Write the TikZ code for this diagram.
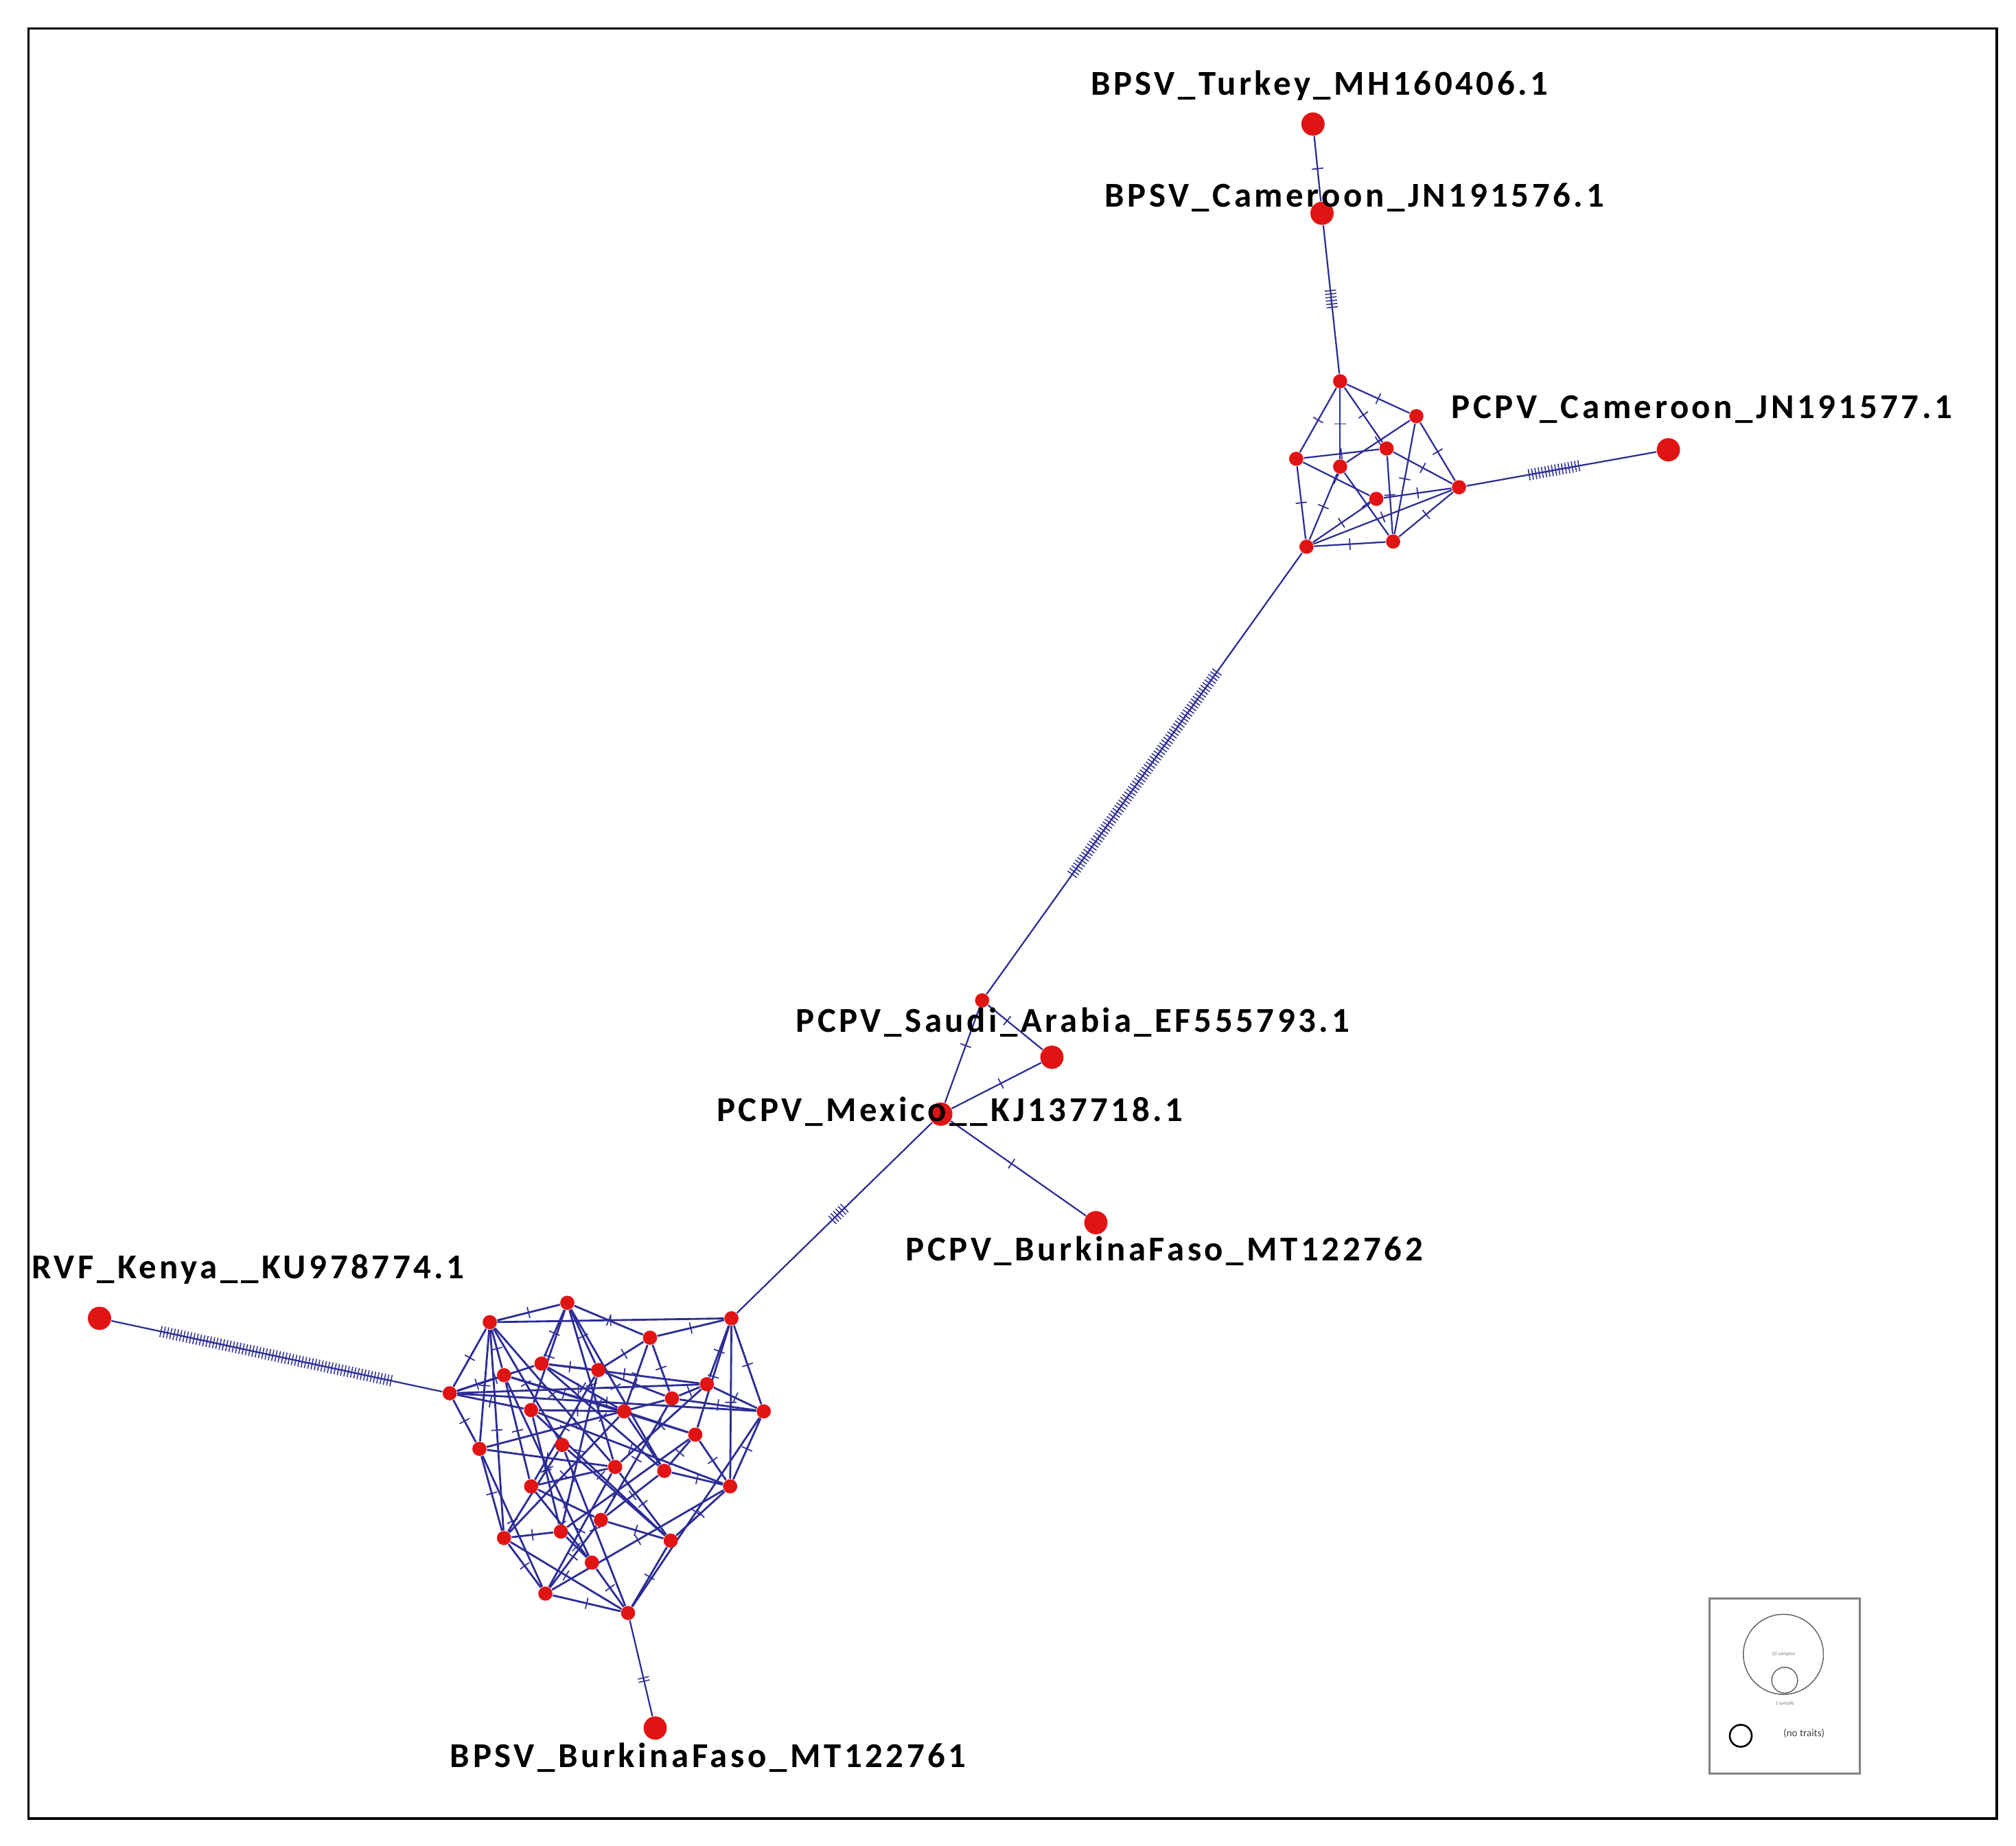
\documentclass[tikz,border=0pt]{standalone}
\usepackage{fontspec}
\setmainfont{Carlito}
\usetikzlibrary{decorations.markings}
\pgfdeclarelayer{bg}\pgfsetlayers{bg,main}
\definecolor{edge}{RGB}{45,45,150}
\definecolor{nod}{RGB}{225,20,20}
\tikzset{
 e/.style={draw=edge,line width=0.6pt},
 eb/.style={draw=edge,line width=0.75pt},
 hv/.style={circle,fill=nod,inner sep=0pt,minimum size=5.5pt},
 leaf/.style={circle,fill=nod,inner sep=0pt,minimum size=9pt},
 lab/.style={font=\fontsize{13.5}{14}\bfseries\addfontfeature{LetterSpace=9}},
 m/.style={postaction={decorate,decoration={markings,mark=at position #1 with {\draw[edge,line width=0.45pt] (0,-2.2pt)--(0,2.2pt);}}}},
 m/.default=0.5,
 mm/.style 2 args={postaction={decorate,decoration={markings,mark=between positions #1 and #2 step 1.3pt with {\draw[edge,line width=0.4pt] (0,-2.2pt)--(0,2.2pt);}}}},
}
\begin{document}
\begin{tikzpicture}[x=0.5pt,y=-0.5pt]
\useasboundingbox (0,0) rectangle (1560,1428);
\draw[line width=1pt] (22,22) rectangle (1545,1407);
% leaves
\node[leaf] (tur) at (1016,96) {};
\node[leaf] (cam) at (1023,165) {};
\node[leaf] (pcam) at (1291,348) {};
\node[leaf] (sau) at (814,818) {};
\node[leaf] (mex) at (728,862) {};
\node[leaf] (pbf) at (848,946) {};
\node[leaf] (rvf) at (77,1020) {};
\node[leaf] (bbf) at (507,1337) {};
\node[hv] (j) at (760,774) {};
% top cluster
\foreach \n/\p in {a/{1037,295},b/{1096,322},c/{1073,347},d/{1003,355},e/{1037,361},f/{1065,386},g/{1129,377},h/{1011,423},i/{1078,419}}
  \node[hv] (\n) at (\p) {};
% bottom cluster
\foreach \n/\p in {1/{439,1008},2/{379,1023},3/{566,1020},4/{503,1035},5/{348,1078},6/{419,1055},7/{463,1060},8/{390,1064},9/{547,1071},10/{520,1082},11/{411,1091},12/{483,1092},13/{591,1092},14/{538,1110},15/{371,1121},16/{476,1135},17/{514,1138},18/{435,1118},19/{411,1150},20/{565,1150},21/{390,1190},22/{465,1176},23/{434,1185},24/{519,1192},25/{458,1209},26/{422,1233},27/{486,1248}}
  \node[hv] (n\n) at (\p) {};
\begin{pgfonlayer}{bg}
\draw[e,m] (tur)--(cam);
\draw[e,mm={0.44}{0.56}] (cam)--(a);
\draw[e,mm={0.33}{0.6}] (g)--(pcam);
\draw[e,mm={0.27}{0.73}] (h)--(j);
\foreach \u/\v in {a/b,a/d,a/e,a/c,d/c,b/e,b/i,b/g,c/g,c/i,d/f,f/g,g/i,g/h,f/h,e/i,d/h,h/i,e/h}
  \draw[e,m] (\u)--(\v);
\draw[e,m=0.35] (j)--(sau);
\draw[e,m=0.4] (j)--(mex);
\draw[e,m=0.45] (sau)--(mex);
\draw[e,m=0.45] (mex)--(pbf);
\draw[e,mm={0.45}{0.52}] (mex)--(n3);
\draw[e,mm={0.15}{0.85}] (rvf)--(n5);
\draw[e,mm={0.6}{0.64}] (n27)--(bbf);
\foreach \u/\v in {2/1,1/4,2/3,4/3,3/13,3/14,3/9,5/2,5/6,5/8,5/9,5/15,5/11,5/13,2/8,2/18,2/16,1/6,1/7,1/11,1/17,4/7,4/10,4/12,6/7,7/10,6/9,8/12,8/19,8/25,8/14,9/13,9/16,10/13,10/15,10/22,11/12,11/20,11/23,12/17,12/21,13/20,13/27,14/17,14/20,14/23,15/16,15/21,15/26,16/19,16/24,16/26,17/20,17/22,18/21,18/24,18/27,19/22,19/25,20/24,20/26,21/23,21/27,22/24,22/26,23/25,24/27,25/27,26/27,6/17,7/19,2/15,21/26,12/14,6/12,9/10,2/21,3/20,11/24,7/23,1/16}
  \draw[eb,m] (n\u)--(n\v);
\end{pgfonlayer}
% labels
\node[lab] at (1021,66) {BPSV\_Turkey\_MH160406.1};
\node[lab] at (1048,153) {BPSV\_Cameroon\_JN191576.1};
\node[lab] at (1317,317) {PCPV\_Cameroon\_JN191577.1};
\node[lab] at (830,791) {PCPV\_Saudi\_Arabia\_EF555793.1};
\node[lab] at (735,860) {PCPV\_Mexico\_\_KJ137718.1};
\node[lab] at (901,968) {PCPV\_BurkinaFaso\_MT122762};
\node[lab] at (192,982) {RVF\_Kenya\_\_KU978774.1};
\node[lab] at (548,1360) {BPSV\_BurkinaFaso\_MT122761};
% legend
\draw[gray,line width=0.8pt] (1323,1237) rectangle (1439,1372);
\node[circle,draw=gray!80!black,line width=0.4pt,minimum size=31pt,inner sep=0pt] (big) at (1380,1280) {};
\node[circle,draw=gray!80!black,line width=0.4pt,minimum size=10pt,inner sep=0pt] (small) at (1381,1300) {};
\node[font=\fontsize{2}{2}\selectfont,gray] at (1380,1280) {10 samples};
\node[font=\fontsize{2}{2}\selectfont,gray] at (1381,1318) {1 sample};
\node[circle,draw=black,line width=0.7pt,minimum size=8.5pt,inner sep=0pt] (nt) at (1347,1343) {};
\node[font=\fontsize{4}{4}\selectfont,gray!50!black] at (1396,1341) {(no traits)};
\end{tikzpicture}
\end{document}
